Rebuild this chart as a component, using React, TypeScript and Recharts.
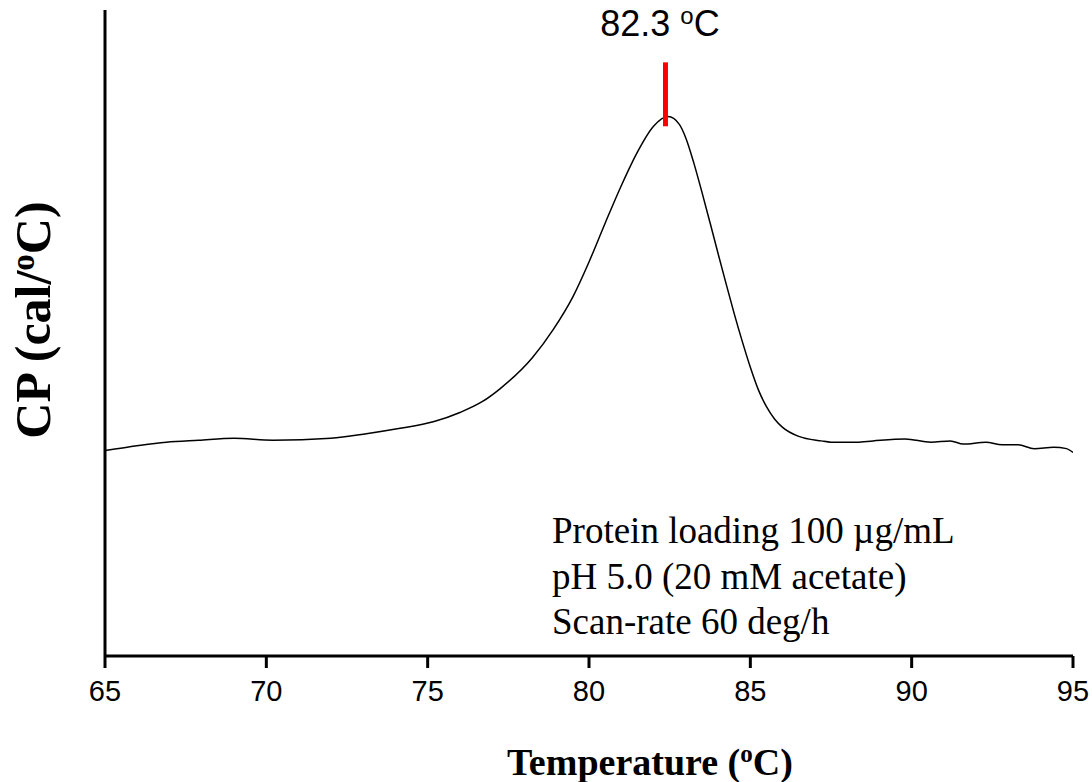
import { LineChart, Line, XAxis, YAxis, ReferenceLine, Customized } from 'recharts'

// temperature (°C) and heat capacity (arbitrary units)
const temps = [
    65.0, 66.9, 67.9, 69.0, 70.2, 72.0, 73.1, 74.1, 75.2, 76.0, 76.7, 77.25, 78.25, 78.9, 79.5, 80.0,
    80.5, 81.0, 81.5, 82.0, 82.45, 82.8, 83.0, 83.25, 83.5, 83.75, 84.0, 84.25, 84.5, 84.75, 85.0,
    85.25, 85.5, 85.75, 86.0, 86.5, 87.2, 87.5, 88.3, 88.8, 89.8, 90.6, 91.2, 91.6, 92.3, 92.8, 93.3,
    93.8, 94.4, 94.8, 95.0,
]
const cp = [
    31.8, 33.1, 33.4, 33.7, 33.4, 33.7, 34.4, 35.2, 36.3, 37.7, 39.4, 41.4, 46.2, 50.6, 55.6, 61.0,
    67.0, 72.8, 78.0, 82.0, 83.5, 82.3, 80.2, 76.3, 71.8, 67.1, 62.3, 57.6, 53.0, 48.7, 44.7,
    41.2, 38.6, 36.7, 35.4, 34.0, 33.3, 33.1, 33.1, 33.3, 33.6, 33.1, 33.3, 32.8, 33.1, 32.7, 32.7,
    32.1, 32.3, 32.1, 31.5,
]
const xTicks = [65, 70, 75, 80, 85, 90, 95]
const tm = 82.37
const tmMarker = [82.0, 91.9]
const tmLabel = '82.3 '
const notes = ['Protein loading 100 µg/mL', 'pH 5.0 (20 mM acetate)', 'Scan-rate 60 deg/h']

const data = temps.map((t, i) => ({ t, cp: cp[i] }))

const sans = '"Liberation Sans", Arial, sans-serif'
const serif = '"Liberation Serif", "Times New Roman", serif'

function Annotations() {
    return (
        <g>
            <text x={660} y={36} textAnchor="middle" fontFamily={sans} fontSize={36} fill="#000">
                {tmLabel}
                <tspan fontSize={24} dy={-12}>o</tspan>
                <tspan dy={12}>C</tspan>
            </text>
            <text
                x={50}
                y={320}
                transform="rotate(-90, 50, 320)"
                textAnchor="middle"
                fontFamily={serif}
                fontWeight="bold"
                fontSize={50}
                fill="#000"
            >
                CP (cal/
                <tspan fontSize={33} dy={-16}>o</tspan>
                <tspan dy={16}>C)</tspan>
            </text>
            <text x={507} y={775} fontFamily={serif} fontWeight="bold" fontSize={38} fill="#000">
                Temperature (
                <tspan fontSize={25} dy={-13}>o</tspan>
                <tspan dy={13}>C)</tspan>
            </text>
            {notes.map((n, i) => (
                <text key={n} x={552} y={[543, 589, 634][i]} fontFamily={serif} fontSize={37} fill="#000">
                    {n}
                </text>
            ))}
        </g>
    )
}

export default function App() {
    return (
        <div style={{ position: 'absolute', left: 0, top: 0, width: 1092, height: 782, background: '#fff' }}>
            <LineChart width={1092} height={782} data={data} margin={{ top: 10, right: 19, left: 104, bottom: 66 }}>
                <XAxis
                    dataKey="t"
                    type="number"
                    domain={[65, 95]}
                    ticks={xTicks}
                    allowDataOverflow
                    height={60}
                    axisLine={{ stroke: '#000', strokeWidth: 3 }}
                    tickLine={{ stroke: '#000', strokeWidth: 3 }}
                    tickSize={12}
                    tickMargin={12}
                    tick={{ fill: '#000', fontSize: 29, fontFamily: sans }}
                />
                <YAxis
                    type="number"
                    domain={[0, 100]}
                    width={1}
                    tick={false}
                    tickLine={false}
                    axisLine={{ stroke: '#000', strokeWidth: 3 }}
                />
                <Line
                    type="monotone"
                    dataKey="cp"
                    stroke="#000"
                    strokeWidth={1.5}
                    dot={false}
                    isAnimationActive={false}
                />
                <ReferenceLine
                    segment={[
                        { x: tm, y: tmMarker[0] },
                        { x: tm, y: tmMarker[1] },
                    ]}
                    stroke="#ff0000"
                    strokeWidth={5}
                />
                <Customized component={Annotations} />
            </LineChart>
        </div>
    )
}
